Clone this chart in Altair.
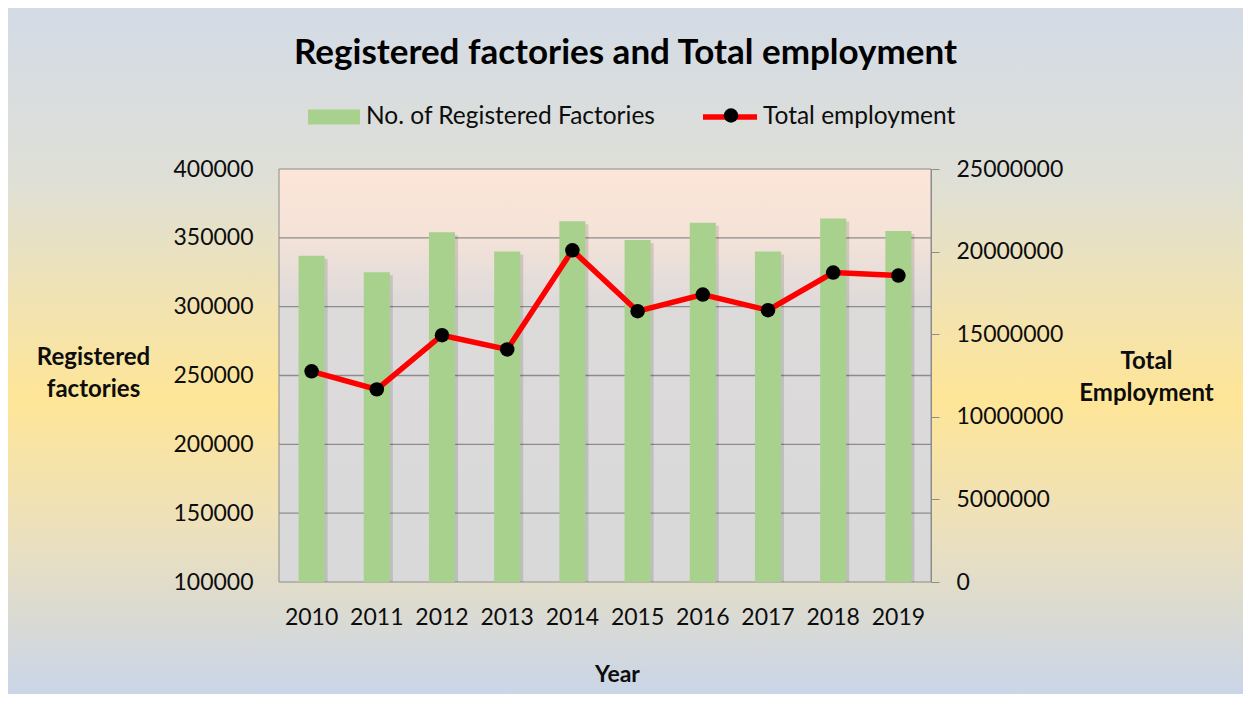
import altair as alt
import pandas as pd

# ---------------- data ----------------
years = ["2010", "2011", "2012", "2013", "2014", "2015", "2016", "2017", "2018", "2019"]
factories = [337000, 325000, 354000, 340000, 362000, 348500, 361000, 340000, 364000, 355000]
employment = [12750000, 11660000, 14940000, 14080000, 20080000, 16390000, 17400000, 16450000, 18730000, 18550000]
left_ticks = [100000, 150000, 200000, 250000, 300000, 350000, 400000]
right_ticks = [0, 5000000, 10000000, 15000000, 20000000, 25000000]
grid_values = [150000, 200000, 250000, 300000, 350000]
bar_name = "No. of Registered Factories"
line_name = "Total employment"

FONT = "Lato"
W, H = 652, 413
PAD = {"left": 271, "top": 161, "right": 312, "bottom": 112}
GRID = "#8c8c8c"
TXT = "#0d0d0d"

df = pd.DataFrame({
    "year": years,
    "factories": factories,
    "employment": employment,
    "bar_series": [bar_name] * len(years),
    "line_series": [line_name] * len(years),
    "pt_series": [line_name] * len(years),
})
grid_df = pd.DataFrame({"factories": grid_values})
one = pd.DataFrame({"a": [0]})

x_scale = alt.Scale(paddingInner=0.6, paddingOuter=0.3)
left_scale = alt.Scale(domain=[100000, 400000], zero=False, nice=False)
right_scale = alt.Scale(domain=[0, 25000000], nice=False)

# ---------------- backgrounds ----------------
bg = alt.Chart(one).mark_rect(
    fill=alt.LinearGradient(
        gradient="linear", x1=0, x2=0, y1=0, y2=1,
        stops=[
            alt.GradientStop(color="#d4dbe6", offset=0),
            alt.GradientStop(color="#dedfd6", offset=0.25),
            alt.GradientStop(color="#f3e3ae", offset=0.45),
            alt.GradientStop(color="#fee597", offset=0.57),
            alt.GradientStop(color="#eee1ba", offset=0.75),
            alt.GradientStop(color="#cad5e8", offset=1),
        ],
    )
).encode(
    x=alt.value(-PAD["left"]), x2=alt.value(W + PAD["right"]),
    y=alt.value(-PAD["top"]), y2=alt.value(H + PAD["bottom"]),
)

plot_bg = alt.Chart(one).mark_rect(
    fill=alt.LinearGradient(
        gradient="linear", x1=0, x2=0, y1=0, y2=1,
        stops=[
            alt.GradientStop(color="#fbe5d7", offset=0),
            alt.GradientStop(color="#f6e3d8", offset=0.15),
            alt.GradientStop(color="#dddada", offset=0.33),
            alt.GradientStop(color="#d9d9d9", offset=1),
        ],
    ),
    stroke=GRID, strokeWidth=1,
).encode(x=alt.value(0), x2=alt.value(W), y=alt.value(0), y2=alt.value(H))

# ---------------- axes ----------------
x_axis = alt.Axis(
    orient="bottom", domain=False, ticks=False, grid=False, labelAngle=0,
    labelFont=FONT, labelFontSize=23, labelColor=TXT, labelPadding=24,
    title="Year", titleFont=FONT, titleFontSize=23, titleFontWeight="bold", titleColor=TXT,
    titleX=338, titleY=92, titleAlign="center", titleBaseline="middle", zindex=1,
)
left_axis = alt.Axis(
    orient="left", values=left_ticks, format="d", domain=False, ticks=False, grid=False,
    labelFont=FONT, labelFontSize=23, labelColor=TXT, labelPadding=26,
    title=["Registered", "factories"], titleFont=FONT, titleFontSize=24,
    titleFontWeight="bold", titleColor=TXT, titleAngle=0, titleAlign="center",
    titleBaseline="middle", titleX=-186, titleY=188, titleLineHeight=32, zindex=1,
)
right_axis = alt.Axis(
    orient="right", values=right_ticks, format="d", grid=False,
    domain=True, domainColor=GRID, domainWidth=1, ticks=True, tickSize=8, tickColor=GRID,
    labelFont=FONT, labelFontSize=23, labelColor=TXT, labelPadding=17,
    title=["Total", "Employment"], titleFont=FONT, titleFontSize=24, titleFontWeight="bold",
    titleColor=TXT, titleAngle=0, titleAlign="center", titleBaseline="middle",
    titleX=215, titleY=192, titleLineHeight=32, zindex=1,
)

# ---------------- left (bars) ----------------
grid = alt.Chart(grid_df).mark_rule(color=GRID, strokeWidth=1.3).encode(
    y=alt.Y("factories:Q", scale=left_scale, axis=left_axis)
)

bar_shadow = alt.Chart(df).mark_bar(color="black", opacity=0.12, xOffset=3, yOffset=3, clip=True).encode(
    x=alt.X("year:N", scale=x_scale, axis=x_axis),
    y=alt.Y("factories:Q", scale=left_scale, axis=left_axis),
    y2=alt.datum(100000),
)

bars = alt.Chart(df).mark_bar().encode(
    x=alt.X("year:N", scale=x_scale, axis=x_axis),
    y=alt.Y("factories:Q", scale=left_scale, axis=left_axis),
    y2=alt.datum(100000),
    fill=alt.Fill(
        "bar_series:N", scale=alt.Scale(range=["#a9d18e"]),
        legend=alt.Legend(
            orient="none", legendX=29, legendY=-78, title=None, padding=0,
            symbolType="M-1,-0.29L1,-0.29L1,0.29L-1,0.29Z", symbolSize=2704,
            symbolStrokeWidth=0, symbolOpacity=1, labelLimit=400,
            labelFont=FONT, labelFontSize=24.5, labelColor=TXT, labelOffset=6,
        ),
    ),
)

left = alt.layer(grid, bar_shadow, bars)

# ---------------- right (line) ----------------
line = alt.Chart(df).mark_line(strokeWidth=5.5).encode(
    x=alt.X("year:N", scale=x_scale, axis=x_axis),
    y=alt.Y("employment:Q", scale=right_scale, axis=right_axis),
    stroke=alt.Stroke(
        "line_series:N", scale=alt.Scale(range=["#ff0000"]),
        legend=alt.Legend(
            orient="none", legendX=421, legendY=-82, title=None, padding=0,
            symbolType="stroke", symbolSize=2916, symbolStrokeWidth=5.5, labelLimit=400,
            labelFont=FONT, labelFontSize=24.5, labelColor=TXT, labelOffset=3,
        ),
    ),
)

points = alt.Chart(df).mark_point(filled=True, size=210, opacity=1, color="black").encode(
    x=alt.X("year:N", scale=x_scale, axis=x_axis),
    y=alt.Y("employment:Q", scale=right_scale, axis=right_axis),
    shape=alt.Shape(
        "pt_series:N", scale=alt.Scale(range=["circle"]),
        legend=alt.Legend(
            orient="none", legendX=444.5, legendY=-61, title=None, padding=0,
            symbolSize=210, symbolFillColor="black", symbolStrokeWidth=0, symbolOpacity=1,
            labelExpr="''", zindex=2,
        ),
    ),
)

right = alt.layer(line, points)

chart = alt.layer(bg, plot_bg, left, right).resolve_scale(
    y="independent", fill="independent", stroke="independent", shape="independent"
).properties(
    width=W, height=H,
    autosize=alt.AutoSizeParams(type="none"),
    padding=PAD,
    title=alt.TitleParams(
        "Registered factories and Total employment",
        font=FONT, fontSize=35, fontWeight="bold", color="#000000",
        anchor="middle", frame="bounds", dy=67,
    ),
).configure(background="white").configure_view(stroke=None)

chart.save("out.html", embed_options={"renderer": "svg", "actions": False})
